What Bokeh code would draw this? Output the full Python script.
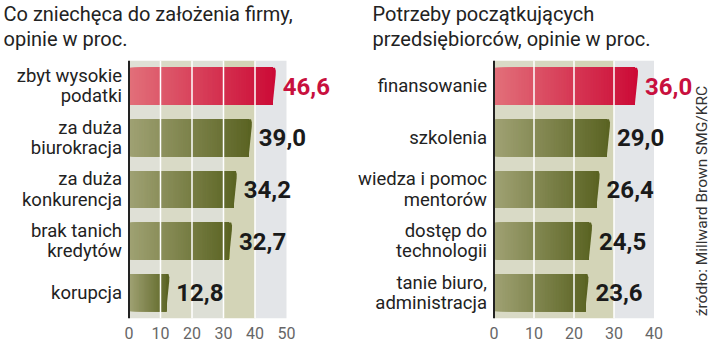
import math
import numpy as np
from bokeh.plotting import figure
from bokeh.layouts import row
from bokeh.models import Range1d, FixedTicker, Title, Label, Span
from bokeh.core.properties import value
from bokeh.embed import file_html
from bokeh.resources import INLINE

# ---------------- data ----------------
left_title = ["Co zniechęca do założenia firmy,", "opinie w proc."]
left_categories = ["zbyt wysokie\npodatki", "za duża\nbiurokracja", "za duża\nkonkurencja",
                   "brak tanich\nkredytów", "korupcja"]
left_values = [46.6, 39.0, 34.2, 32.7, 12.8]
left_ticks = [0, 10, 20, 30, 40, 50]

right_title = ["Potrzeby początkujących", "przedsiębiorców, opinie w proc."]
right_categories = ["finansowanie", "szkolenia", "wiedza i pomoc\nmentorów",
                    "dostęp do\ntechnologii", "tanie biuro,\nadministracja"]
right_values = [36.0, 29.0, 26.4, 24.5, 23.6]
right_ticks = [0, 10, 20, 30, 40]

source_text = "źródło: Millward Brown SMG/KRC"

# ---------------- styling ----------------
FONT = "Roboto"
RED_LIGHT, RED_DARK = (226, 112, 122), (204, 10, 54)
GRN_LIGHT, GRN_DARK = (160, 162, 116), (90, 99, 34)
H = 341


def lerp(c1, c2, t):
    return "#%02x%02x%02x" % tuple(int(round(a + (b - a) * t)) for a, b in zip(c1, c2))


def make_panel(titles, cats, vals, ticks, origin_px, ppu, band_colors, title_offset, width):
    n = len(cats)
    p = figure(width=width, height=H,
               x_range=Range1d(-origin_px / ppu, (width - origin_px) / ppu),
               y_range=Range1d(n - 0.5, -0.5),
               output_backend="svg", toolbar_location=None,
               min_border_left=0, min_border_right=0, min_border_top=60, min_border_bottom=23)
    p.outline_line_color = None
    p.xgrid.visible = False
    p.ygrid.visible = False
    p.yaxis.visible = False
    ax = p.xaxis[0]
    ax.ticker = FixedTicker(ticks=ticks)
    ax.axis_line_color = None
    ax.major_tick_line_color = None
    ax.minor_tick_line_color = None
    ax.major_label_text_font = FONT
    ax.major_label_text_font_size = "16px"
    ax.major_label_text_color = "#666666"
    ax.major_label_standoff = 2

    # titles (later-added one sits on top)
    p.add_layout(Title(text=titles[1], align="left", offset=title_offset, text_font=FONT,
                       text_font_size="20px", text_font_style="normal",
                       text_color="#222222", standoff=20), "above")
    p.add_layout(Title(text=titles[0], align="left", offset=title_offset, text_font=FONT,
                       text_font_size="20px", text_font_style="normal",
                       text_color="#222222", standoff=-22), "above")

    # background bands
    p.quad(left=ticks[:-1], right=ticks[1:], top=-0.5, bottom=n - 0.5,
           fill_color=band_colors, line_color=None)

    # gradient bars: overlapping pieces, each running to the bar end
    h = 0.72
    slant = 3.0 / ppu
    step = 0.4
    lefts, rights, ys, cs = [], [], [], []
    tri_x, tri_y, tri_c = [], [], []
    for i, v in enumerate(vals):
        light, dark = (RED_LIGHT, RED_DARK) if i == 0 else (GRN_LIGHT, GRN_DARK)
        end = v - slant
        for a in np.arange(0, end, step):
            lefts.append(a)
            rights.append(end)
            ys.append(i)
            cs.append(lerp(light, dark, (a + step / 2) / v))
        tri_x.append([end - 0.05, v - 0.25, v, v - 0.03, end - 0.05])
        tri_y.append([i - h / 2, i - h / 2, i - h / 2 + 0.06, i - h / 2 + 0.14, i + h / 2])
        tri_c.append(lerp(light, dark, 1.0))
    p.hbar(left=lefts, right=rights, y=ys, height=h, fill_color=cs, line_color=None)
    p.patches(xs=tri_x, ys=tri_y, fill_color=tri_c, line_color=None)

    # white grid lines over bars
    p.segment(x0=ticks[1:-1], y0=-0.5, x1=ticks[1:-1], y1=n - 0.5, line_color="white", line_width=1.5)

    # axis line
    p.add_layout(Span(location=0, dimension="height", line_color="#222222", line_width=2))

    idx = list(range(n))
    p.text(x=[0] * n, y=idx, text=cats, x_offset=-7, text_align="right", text_baseline="middle",
           text_font=value(FONT), text_font_size="18.5px", text_color="#222222", text_line_height=0.92)
    labels = [("%.1f" % v).replace(".", ",") for v in vals]
    colors = ["#c8103e"] + ["#1a1a1a"] * (n - 1)
    p.text(x=vals, y=idx, text=labels, x_offset=7, text_align="left", text_baseline="middle",
           text_font=value(FONT), text_font_size="24px", text_font_style="bold", text_color=colors)
    return p


LEFT_W, RIGHT_W, SRC_W = 350, 342, 28
left = make_panel(left_title, left_categories, left_values, left_ticks, 128.5, 3.15,
                  ["#dfe0d6", "#d9dac6", "#dddfd6", "#d3d4b7", "#e3e5e8"], 3, LEFT_W)
right = make_panel(right_title, right_categories, right_values, right_ticks, 493.5 - LEFT_W, 4.0,
                   ["#d9dac6", "#d6d7c0", "#d3d4b7", "#e3e5e8"], 372 - LEFT_W, RIGHT_W)

# narrow strip for the vertical source note
src = figure(width=SRC_W, height=H, x_range=Range1d(0, SRC_W), y_range=Range1d(0, H),
             output_backend="svg", toolbar_location=None,
             min_border_left=0, min_border_right=0, min_border_top=0, min_border_bottom=0)
src.outline_line_color = None
src.axis.visible = False
src.grid.visible = False
src.add_layout(Label(x=9, y=3, text=source_text, angle=math.pi / 2, text_align="left",
                     text_baseline="middle", text_font=FONT, text_font_size="15.5px",
                     text_color="#333333"))

layout = row(left, right, src)
open("out.html", "w").write(file_html(layout, INLINE))
